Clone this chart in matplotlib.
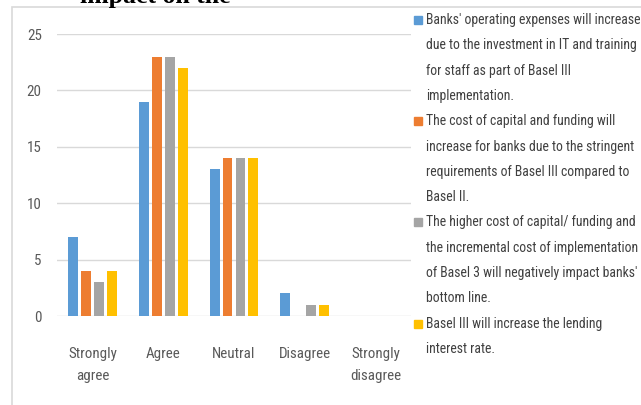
import numpy as np
import matplotlib.pyplot as plt
from matplotlib.patches import Rectangle

categories = ["Strongly\nagree", "Agree", "Neutral", "Disagree", "Strongly\ndisagree"]
series_labels = [
    "Banks' operating expenses will increase\ndue to the investment in IT and training\nfor staff as part of Basel III\nimplementation.",
    "The cost of capital and funding will\nincrease for banks due to the stringent\nrequirements of Basel III compared to\nBasel II.",
    "The higher cost of capital/ funding and\nthe incremental cost of implementation\nof Basel 3 will negatively impact banks'\nbottom line.",
    "Basel III will increase the lending\ninterest rate.",
]
opex = [7, 19, 13, 2, 0]
cost_capital = [4, 23, 14, 0, 0]
bottom_line = [3, 23, 14, 1, 0]
lending_rate = [4, 22, 14, 1, 0]
series = [opex, cost_capital, bottom_line, lending_rate]
colors = ["#5B9BD5", "#ED7D31", "#A5A5A5", "#FFC000"]

font = ["Roboto Condensed", "DejaVu Sans"]
txt = "#595959"

fig = plt.figure(figsize=(6.41, 4.05), dpi=100)
renderer = fig.canvas.get_renderer()


def fit_size(s, width_px, base=11):
    t = fig.text(0, 0, s, family=font, fontsize=base)
    w = t.get_window_extent(renderer).width
    t.remove()
    return base * width_px / w


ax = fig.add_axes([57 / 641, 1 - 316 / 405, 354 / 641, 282 / 405])

x = np.arange(len(categories))
w = 0.14
pitch = 0.183
for i, (vals, c) in enumerate(zip(series, colors)):
    ax.bar(x + (i - 1.5) * pitch, vals, width=w, color=c, zorder=3)

tick_fs = fit_size("Neutral", 43)
ax.set_xlim(-0.5, len(categories) - 0.5)
ax.set_ylim(0, 25)
ax.set_yticks([0, 5, 10, 15, 20, 25])
ax.set_xticks(x)
ax.set_xticklabels(categories, family=font, fontsize=tick_fs, color=txt, linespacing=1.75)
for lab in ax.get_yticklabels():
    lab.set_family(font)
    lab.set_fontsize(tick_fs)
    lab.set_color(txt)
ax.tick_params(length=0, axis="x", pad=22)
ax.tick_params(length=0, axis="y", pad=11)
ax.grid(axis="y", color="#D9D9D9", linewidth=1, zorder=0)
for s in ax.spines.values():
    s.set_visible(False)

# outer chart frame (cropped in the source image)
fig.patches.append(Rectangle((12 / 641, -0.1), 1.2, 1 - 7 / 405 + 0.1,
                             transform=fig.transFigure, fill=False,
                             edgecolor="#D9D9D9", linewidth=1.2))

# title, only its lower part is visible
fig.text(80 / 641, 1 - 3 / 405, "impact on the", family="Liberation Serif",
         fontweight="bold", fontsize=18.5, va="baseline", ha="left")

# legend, one text per line so spacing matches
lines = [ln for lab in series_labels for ln in lab.split("\n")]
leg_fs = fit_size(max(lines, key=len), 212)
line_h = 25.3
row = 0
for lab, c in zip(series_labels, colors):
    ypix = 20 + row * line_h
    fig.patches.append(Rectangle((414 / 641, 1 - (ypix + 4) / 405), 8 / 641, 8 / 405,
                                 transform=fig.transFigure, color=c))
    for ln in lab.split("\n"):
        fig.text(426 / 641, 1 - (20 + row * line_h) / 405, ln, family=font,
                 fontsize=leg_fs, color="#404040", va="center", ha="left")
        row += 1

fig.savefig("out.png", dpi=100, facecolor="white")
